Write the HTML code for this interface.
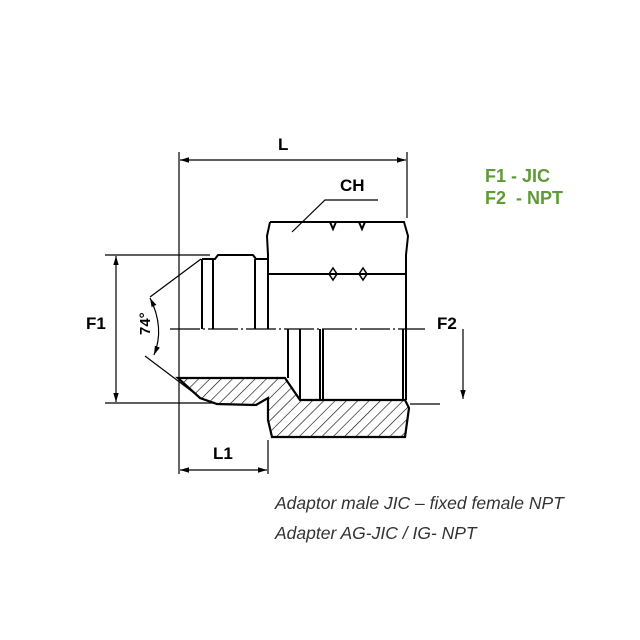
<!DOCTYPE html>
<html><head><style>
html,body{margin:0;padding:0;background:#fff;}
svg{display:block;}
</style></head><body>
<svg width="640" height="640" viewBox="0 0 640 640" xmlns="http://www.w3.org/2000/svg">
<defs>
<pattern id="h" width="8" height="8" patternUnits="userSpaceOnUse" patternTransform="rotate(45)">
<line x1="0" y1="0" x2="0" y2="8" stroke="#000" stroke-width="1.2"/>
</pattern>
<marker id="a" viewBox="0 0 10 10" refX="10" refY="5" markerWidth="9" markerHeight="9" orient="auto-start-reverse" markerUnits="userSpaceOnUse">
<path d="M0,2 L10,5 L0,8 Z" fill="#000"/>
</marker>
</defs>
<g fill="none" stroke="#000" stroke-width="1.2">
<line x1="179" y1="152" x2="179" y2="474"/>
<line x1="407" y1="152" x2="407" y2="218"/>
<line x1="268" y1="440" x2="268" y2="474"/>
<line x1="105" y1="255" x2="210" y2="255"/>
<line x1="105" y1="403" x2="215" y2="403"/>
<line x1="410" y1="404" x2="440" y2="404"/>
<line x1="180" y1="160" x2="406" y2="160" marker-start="url(#a)" marker-end="url(#a)"/>
<line x1="180" y1="470" x2="267" y2="470" marker-start="url(#a)" marker-end="url(#a)"/>
<line x1="116" y1="256" x2="116" y2="402" marker-start="url(#a)" marker-end="url(#a)"/>
<line x1="463" y1="329" x2="463" y2="399" marker-end="url(#a)"/>
<polyline points="292,232 325,200 378,200"/>
<line x1="170" y1="329" x2="425" y2="329" stroke-dasharray="30,3,2,3"/>
<line x1="201" y1="259" x2="150" y2="297"/>
<line x1="202" y1="399" x2="145" y2="356"/>
<path d="M150,298 Q165,328 154,355" marker-start="url(#a)" marker-end="url(#a)"/>
</g>
<g fill="none" stroke="#000" stroke-width="2">
<path d="M270,222 L404,222 L408,236 L406,255 L406,400"/>
<path d="M270,222 L267,236 L268,255 L268,329"/>
<line x1="268" y1="274" x2="406" y2="274"/>
<path d="M330,222 L333,229 L336,222 M359,222 L362,229 L365,222"/>
<path d="M329,274 L333,268 L337,274 L333,280 Z M359,274 L363,268 L367,274 L363,280 Z" stroke-width="1.5"/>
<line x1="202" y1="259" x2="202" y2="329"/>
<line x1="213" y1="258" x2="213" y2="329"/>
<path d="M202,259 L215,259 L218,255 L253,255 L256,259 L267,259" />
<line x1="255" y1="259" x2="255" y2="329"/>
<line x1="288" y1="329" x2="288" y2="378"/>
<line x1="300" y1="329" x2="300" y2="400"/>
<line x1="320" y1="329" x2="320" y2="400"/>
<line x1="323" y1="329" x2="323" y2="400"/>
<line x1="403" y1="329" x2="403" y2="400"/>
</g>
<path d="M178,378 L285,378 L300,400 L405,400 L409,408 L405,437 L272,437 L268,420 L268,398 L256,405 L217,404 L200,398 Z" fill="url(#h)" stroke="#000" stroke-width="2.2"/>
<g font-family="Liberation Sans, sans-serif" font-weight="bold" font-size="17" fill="#000">
<text x="278" y="150">L</text>
<text x="340" y="191">CH</text>
<text x="86" y="329">F1</text>
<text x="437" y="329">F2</text>
<text x="213" y="459">L1</text>
<text transform="translate(150,335) rotate(-90)" font-size="15">74°</text>
</g>
<g font-family="Liberation Sans, sans-serif" font-weight="bold" font-size="18" fill="#5e9a35">
<text x="485" y="182">F1 - JIC</text>
<text x="485" y="204">F2&#160; - NPT</text>
</g>
<g font-family="Liberation Sans, sans-serif" font-style="italic" font-size="17.5" fill="#333">
<text x="275" y="509">Adaptor male JIC – fixed female NPT</text>
<text x="275" y="539">Adapter AG-JIC / IG- NPT</text>
</g>
</svg>
</body></html>
